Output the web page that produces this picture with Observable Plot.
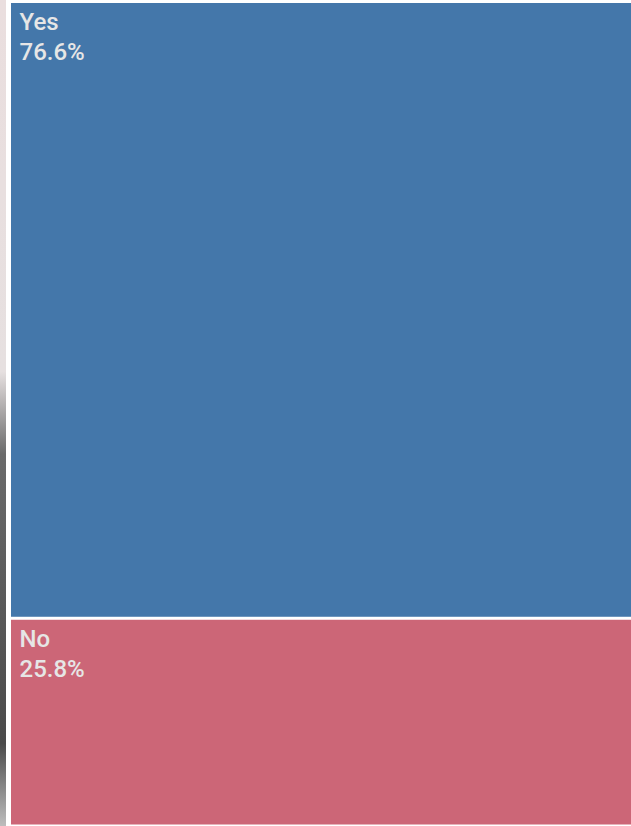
<!DOCTYPE html>
<html>
<head>
<meta charset="utf-8">
<script src="https://cdn.jsdelivr.net/npm/d3@7"></script>
<script src="https://cdn.jsdelivr.net/npm/@observablehq/plot@0.6"></script>
<style>
  html, body { margin: 0; padding: 0; background: #ffffff; }
  #wrap { position: relative; width: 631px; height: 826px; }
  #strip { position: absolute; left: 0; top: 0; width: 6px; height: 826px;
    background: linear-gradient(to bottom, #eadede 0%, #e6e0e0 45%, #6a6a6a 55%, #4a4a4a 90%, #bdbdbd 100%); }
  #chart { position: absolute; left: 0; top: 0; }
</style>
</head>
<body>
<div id="wrap"><div id="strip"></div><div id="chart"></div></div>
<script>
const categories = ["Yes", "No"];
const values = [76.6, 25.8];
const colors = ["#4477AA", "#CC6677"];

let acc = 0;
const data = categories.map((c, i) => {
  const d = { category: c, value: values[i], y1: acc, y2: acc + values[i],
    label: `${c}\n${values[i].toFixed(1)}%` };
  acc += values[i];
  return d;
});

const chart = Plot.plot({
  width: 631,
  height: 826,
  marginLeft: 11,
  marginRight: 0,
  marginTop: 1.5,
  marginBottom: 0,
  style: { background: "transparent", fontFamily: "Roboto, sans-serif" },
  y: { domain: [0, acc], reverse: true, axis: null },
  color: { domain: categories, range: colors },
  marks: [
    Plot.rectY(data, { y1: "y1", y2: "y2", fill: "category", insetTop: 1.5, insetBottom: 1.5 }),
    Plot.text(data, { y: "y1", text: "label", frameAnchor: "left", textAnchor: "start",
      lineAnchor: "top", dx: 8, dy: 7, fill: "#e6e6e6", fontSize: 24, fontWeight: 500,
      lineHeight: 1.25 })
  ]
});
document.getElementById("chart").appendChild(chart);
</script>
</body>
</html>
